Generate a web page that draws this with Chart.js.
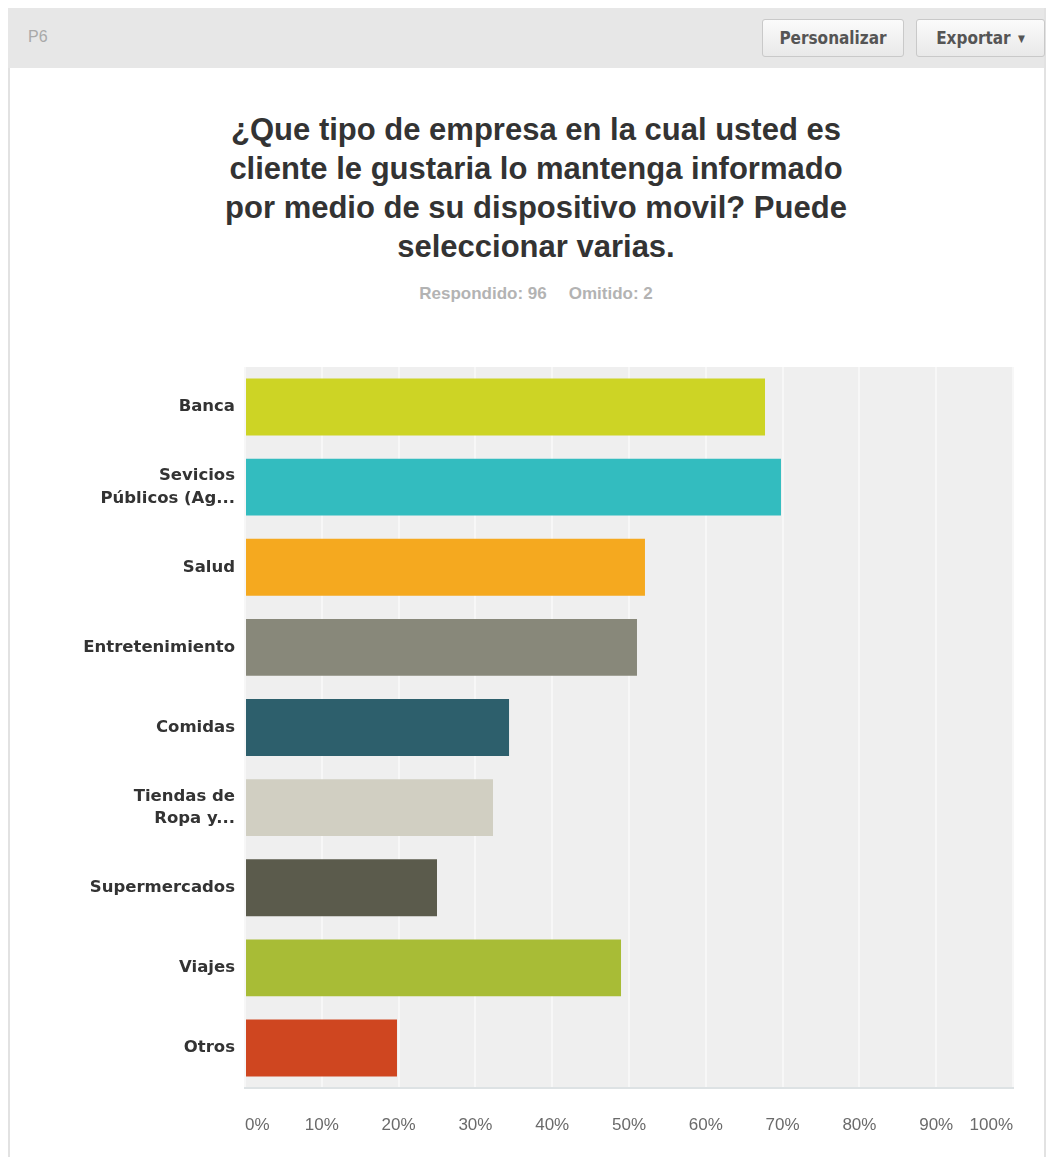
<!DOCTYPE html>
<html lang="es">
<head>
<meta charset="utf-8">
<title>P6</title>
<script src="https://cdn.jsdelivr.net/npm/chart.js@4.4.1/dist/chart.umd.min.js"></script>
<style>
  html, body { margin: 0; padding: 0; background: #fff; }
  body { width: 1052px; height: 1157px; position: relative; overflow: hidden; font-family: "Liberation Sans", Arial, sans-serif; }
  .panel { position: absolute; left: 8px; top: 8px; width: 1034px; height: 1160px; border-left: 2px solid #e2e2e2; border-right: 2px solid #e2e2e2; }
  .bar-head { position: absolute; left: 8px; top: 8px; width: 1036px; height: 60px; background: #e7e7e7; }
  .qnum { position: absolute; left: 20px; top: 20px; font-size: 16px; color: #a9a9a9; }
  .btn { position: absolute; top: 11px; height: 38px; line-height: 36px; text-align: center; font-size: 17px; font-weight: bold; color: #555;
         font-family: "DejaVu Sans Condensed", "DejaVu Sans", sans-serif; border: 1px solid #c9c9c9; border-radius: 3px;
         background: linear-gradient(#fbfbfb, #e9e9e9); box-sizing: border-box; }
  .btn.custom { left: 754px; width: 142px; }
  .btn.export { left: 908px; width: 129px; }
  .caret { font-size: 10px; vertical-align: 2px; margin-left: 2px; }
  h1 { position: absolute; left: 0; width: 1072px; top: 110px; margin: 0; text-align: center; font-size: 31px; line-height: 39px;
       font-weight: bold; color: #333; }
  .meta { position: absolute; left: 0; width: 1072px; top: 284px; text-align: center; font-size: 17px; font-weight: bold; color: #b3b3b3; }
  .meta span + span { margin-left: 22px; }
  #wrap { position: absolute; left: 0; top: 340px; width: 1052px; height: 810px; }
</style>
</head>
<body>
<div class="panel"></div>
<div class="bar-head">
  <div class="qnum">P6</div>
  <div class="btn custom">Personalizar</div>
  <div class="btn export">Exportar <span class="caret">▼</span></div>
</div>
<h1>¿Que tipo de empresa en la cual usted es<br>cliente le gustaria lo mantenga informado<br>por medio de su dispositivo movil? Puede<br>seleccionar varias.</h1>
<div class="meta"><span>Respondido: 96</span><span>Omitido: 2</span></div>
<div id="wrap"><canvas id="chart"></canvas></div>

<script>
// answer options (long ones cut the same way the survey tool does)
const categories = [
  'Banca',
  ['Sevicios', 'Públicos (Ag...'],
  'Salud',
  'Entretenimiento',
  'Comidas',
  ['Tiendas de', 'Ropa y...'],
  'Supermercados',
  'Viajes',
  'Otros'
];

// share of the 96 respondents picking each option, in %
const percents = [67.71, 69.79, 52.08, 51.04, 34.38, 32.29, 25.00, 48.96, 19.79];

const barColors = ['#cdd425', '#33bcbf', '#f5a91f', '#88887a', '#2d5f6c', '#d1cfc2', '#5b5b4c', '#a8bc36', '#cf4620'];

// grey plot background behind the grid
const plotBackground = {
  id: 'plotBackground',
  beforeDraw(chart) {
    const { ctx, chartArea: a } = chart;
    ctx.save();
    ctx.fillStyle = '#efefef';
    ctx.fillRect(a.left, a.top, a.right - a.left, a.bottom - a.top);
    ctx.restore();
  }
};

// percent labels under the x axis; the end ones are kept inside the plot width
const xTickLabels = {
  id: 'xTickLabels',
  afterDraw(chart) {
    const { ctx, chartArea: a } = chart;
    const x = chart.scales.x;
    const ticks = x.ticks;
    ctx.save();
    ctx.font = '17px "Liberation Sans", Arial, sans-serif';
    ctx.fillStyle = '#6a6a6a';
    ctx.textBaseline = 'middle';
    ticks.forEach((t, i) => {
      ctx.textAlign = i === 0 ? 'left' : (i === ticks.length - 1 ? 'right' : 'center');
      ctx.fillText(t.value + '%', x.getPixelForValue(t.value), a.bottom + 37);
    });
    ctx.restore();
  }
};

new Chart(document.getElementById('chart'), {
  type: 'bar',
  data: {
    labels: categories,
    datasets: [{
      data: percents,
      backgroundColor: barColors,
      borderWidth: 0,
      categoryPercentage: 1,
      barPercentage: 0.71
    }]
  },
  options: {
    indexAxis: 'y',
    responsive: true,
    maintainAspectRatio: false,
    animation: false,
    layout: { padding: { top: 27, right: 39, left: 0, bottom: 0 } },
    plugins: { legend: { display: false }, tooltip: { enabled: false } },
    scales: {
      x: {
        min: 0,
        max: 100,
        grid: { color: '#f7f7f7', lineWidth: 2, drawTicks: false },
        border: { display: true, color: '#dde2e4', width: 2 },
        ticks: { stepSize: 10, display: false },
        afterFit(scale) { scale.height = 62; }
      },
      y: {
        grid: { display: false, drawTicks: false },
        border: { display: false },
        ticks: {
          padding: 10,
          color: '#333',
          font: { family: '"DejaVu Sans", Verdana, sans-serif', size: 16.5, weight: 'bold', lineHeight: 1.35 }
        },
        afterFit(scale) { scale.width = 245; }
      }
    }
  },
  plugins: [plotBackground, xTickLabels]
});
</script>
</body>
</html>
